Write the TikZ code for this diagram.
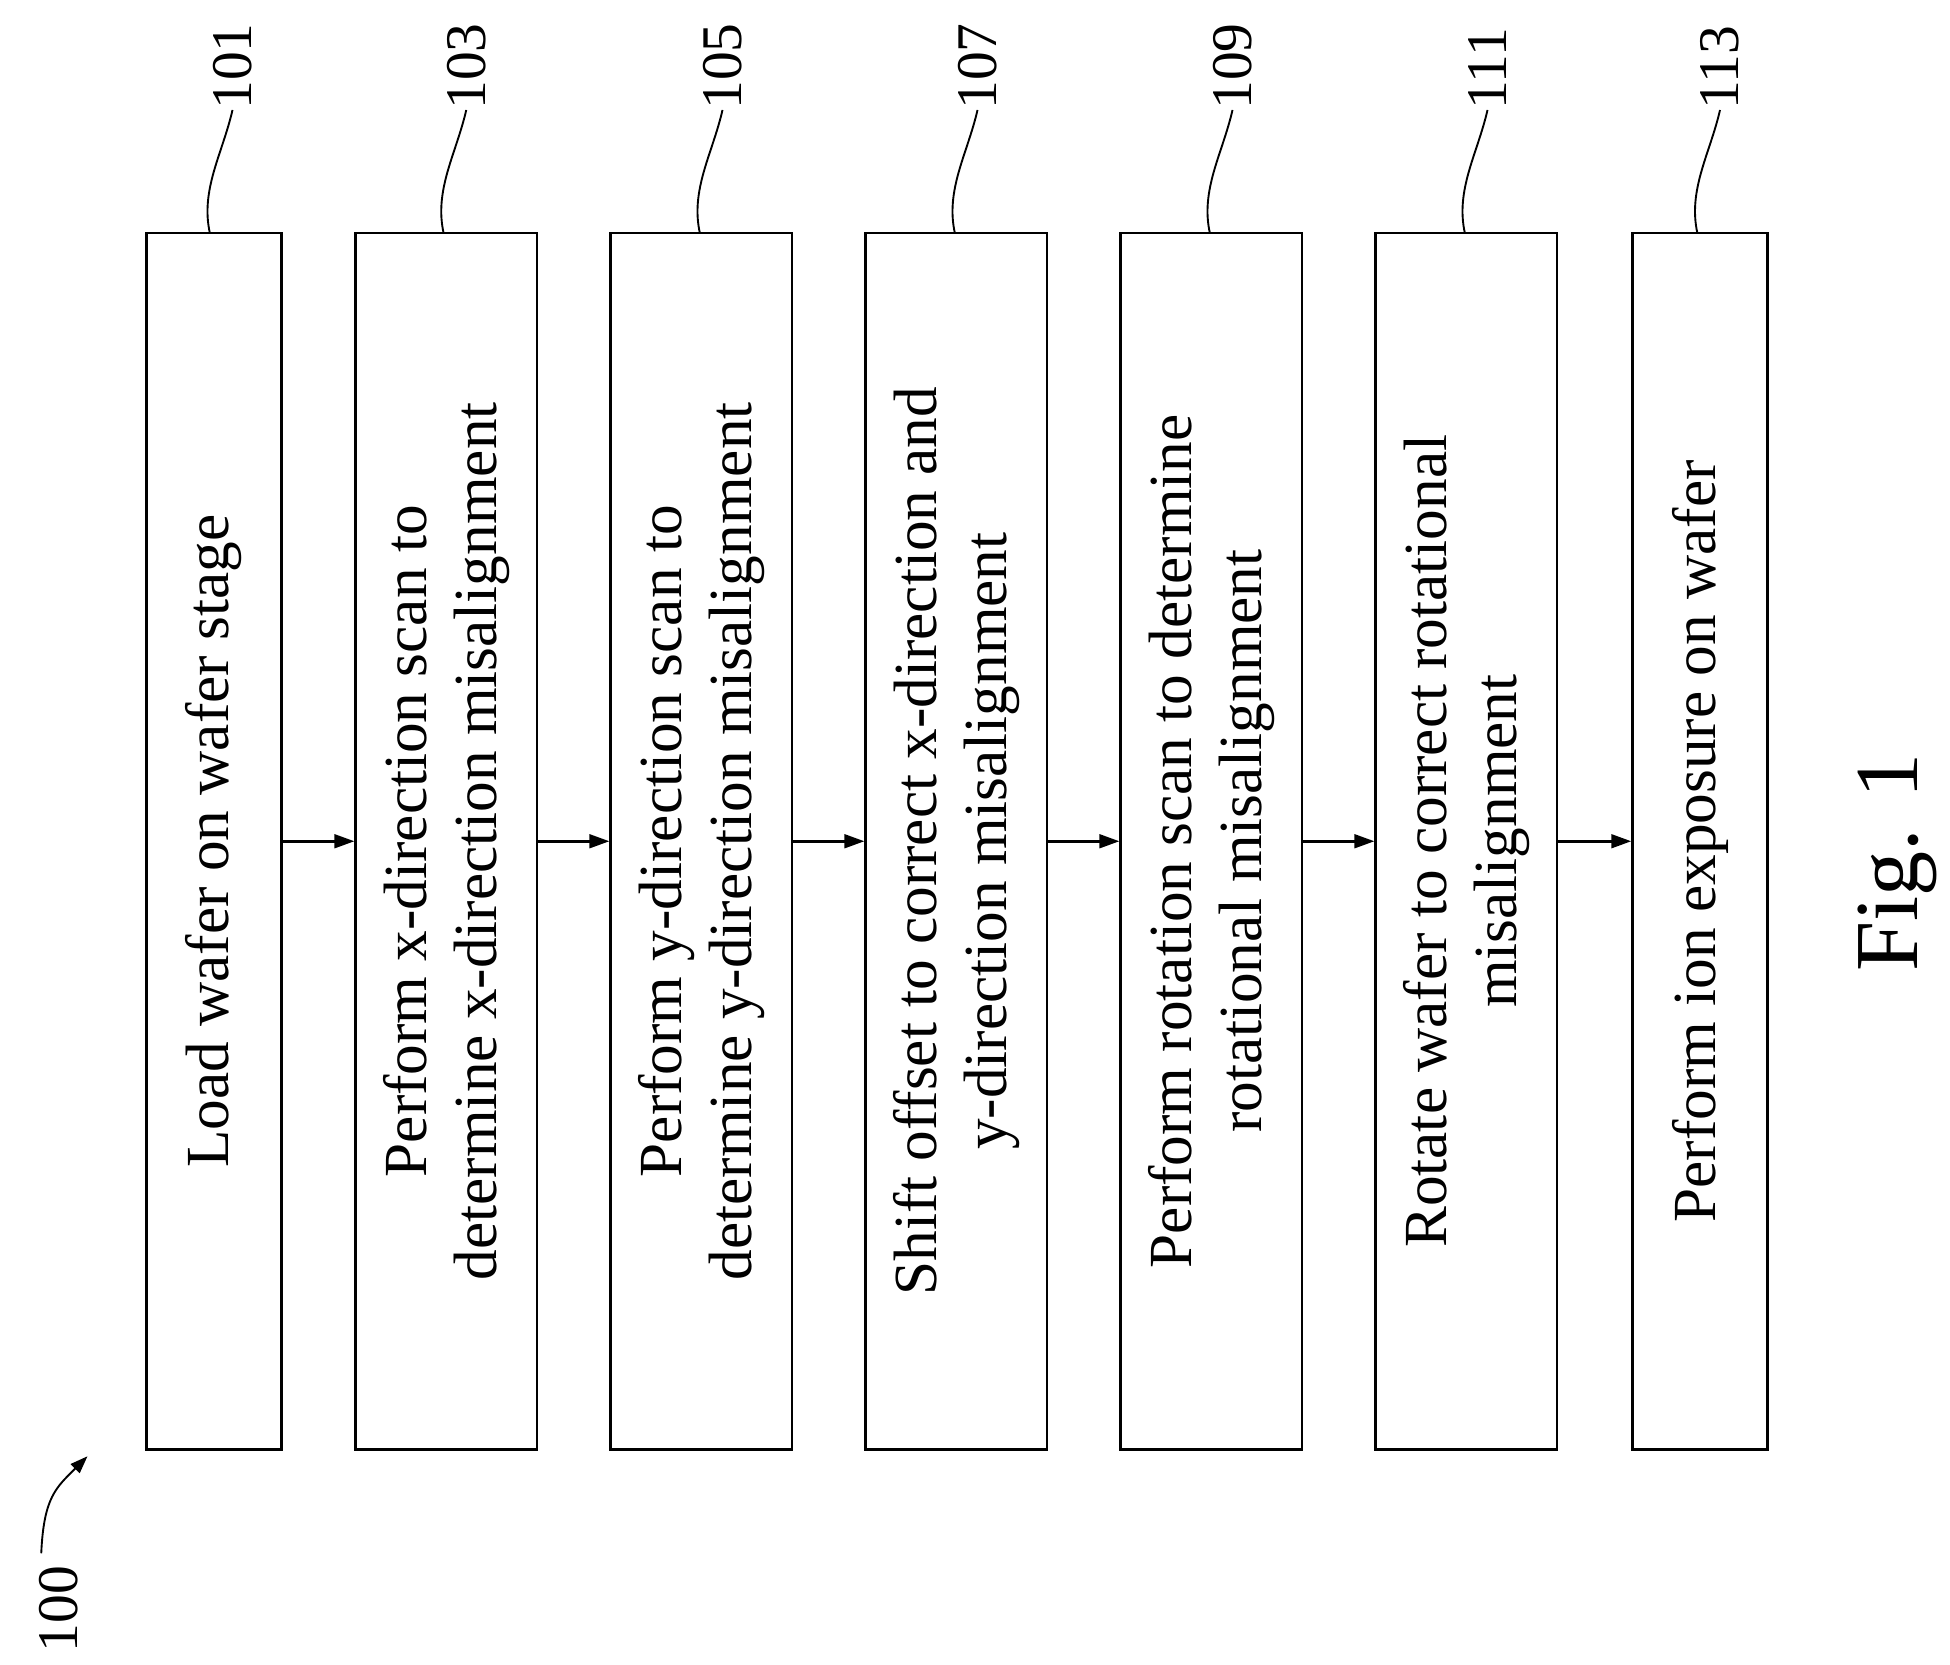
\documentclass[tikz,border=0pt]{standalone}
\usepackage{fontspec}
\setmainfont{Liberation Serif}
\usetikzlibrary{calc,arrows.meta}
\begin{document}
\begin{tikzpicture}[x=1pt,y=-1pt,
  box/.style={draw,line width=2pt,rotate=90,align=center,inner sep=0pt,minimum width=973,font=\fontsize{49}{56}\selectfont},
  lab/.style={rotate=90,anchor=west,inner sep=0pt,font=\fontsize{46}{50}\selectfont},
  arr/.style={line width=2pt,-{Triangle[length=16pt,width=11pt]}},
  sq/.style={line width=1.5pt}]
\useasboundingbox (0,0) rectangle (1560,1332);
\node[box,minimum height=108] (b1) at (171,673) {Load wafer on wafer stage};
\node[box,minimum height=145] (b2) at (357,673) {Perform x-direction scan to\\determine x-direction misalignment};
\node[box,minimum height=145] (b3) at (561,673) {Perform y-direction scan to\\determine y-direction misalignment};
\node[box,minimum height=145] (b4) at (765,673) {Shift offset to correct x-direction and\\y-direction misalignment};
\node[box,minimum height=145] (b5) at (969,673) {Perform rotation scan to determine\\rotational misalignment};
\node[box,minimum height=145] (b6) at (1173,673) {Rotate wafer to correct rotational\\misalignment};
\node[box,minimum height=108] (b7) at (1360,673) {Perform ion exposure on wafer};
\foreach \a/\b in {b1/b2,b2/b3,b3/b4,b4/b5,b5/b6,b6/b7}
  \draw[arr] (\a.south) -- (\b.north);
\foreach \b/\n/\x in {b1/101/168,b2/103/355,b3/105/560,b4/107/764,b5/109/968,b6/111/1172,b7/113/1358}{
  \node[lab] (l\n) at (\x+18,88) {\n};
  \coordinate (s\n) at (\x,187);
  \draw[sq] (s\n) .. controls +(-8,-35) and +(-8,35) .. (l\n.west);
}
\node[rotate=90,inner sep=0pt,font=\fontsize{72}{80}\selectfont] (fig) at (1518,690) {Fig. 1};
\node[lab] (l100) at (47,1322) {100};
\coordinate (t100) at (70,1165);
\draw[line width=1.5pt,-{Triangle[length=14pt,width=10pt]}] ($(l100.east)+(-14,-10)$) .. controls +(2,-45) and +(-25,25) .. (t100);
\end{tikzpicture}
\end{document}
